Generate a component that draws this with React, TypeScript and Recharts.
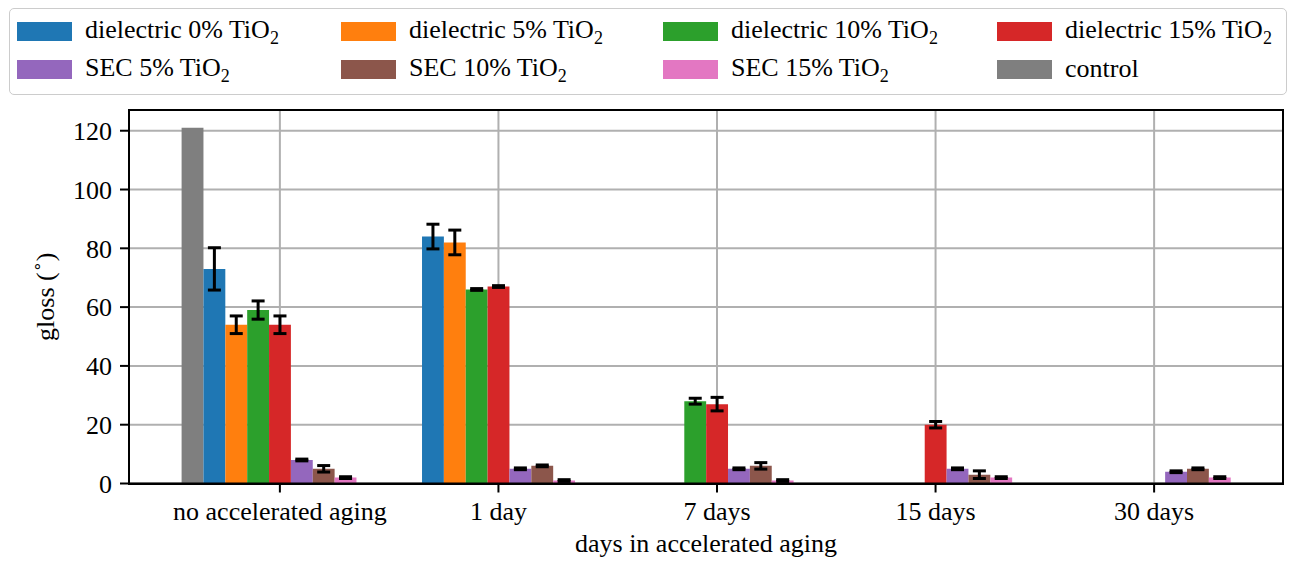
import { BarChart, Bar, XAxis, YAxis, CartesianGrid, ErrorBar } from 'recharts'

const CATEGORIES = ['no accelerated aging', '1 day', '7 days', '15 days', '30 days']
const Y_TICKS = [0, 20, 40, 60, 80, 100, 120]

// gloss values per category, with +/- error read from the caps
const control = [121, null, null, null, null]
const diel0 = [73, 84, 0, 0, 0]
const diel0Err = [7.2, 4.2, 0, 0, 0]
const diel5 = [54, 82, 0, 0, 0]
const diel5Err = [3, 4.2, 0, 0, 0]
const diel10 = [59, 66, 28, 0, 0]
const diel10Err = [3.1, 0.3, 1, 0, 0]
const diel15 = [54, 67, 27, 20, 0]
const diel15Err = [3, 0.3, 2.3, 1.1, 0]
const sec5 = [8, 5, 5, 5, 4]
const sec5Err = [0.3, 0.3, 0.3, 0.3, 0.3]
const sec10 = [5, 6, 6, 3, 5]
const sec10Err = [1.1, 0.3, 1.1, 1.3, 0.3]
const sec15 = [2, 1, 1, 2, 2]
const sec15Err = [0.3, 0.3, 0.3, 0.3, 0.3]

const SERIES = [
  { key: 'control', label: 'control', color: '#7f7f7f', values: control, err: null },
  { key: 'd0', label: 'dielectric 0% TiO2', color: '#1f77b4', values: diel0, err: diel0Err },
  { key: 'd5', label: 'dielectric 5% TiO2', color: '#ff7f0e', values: diel5, err: diel5Err },
  { key: 'd10', label: 'dielectric 10% TiO2', color: '#2ca02c', values: diel10, err: diel10Err },
  { key: 'd15', label: 'dielectric 15% TiO2', color: '#d62728', values: diel15, err: diel15Err },
  { key: 's5', label: 'SEC 5% TiO2', color: '#9467bd', values: sec5, err: sec5Err },
  { key: 's10', label: 'SEC 10% TiO2', color: '#8c564b', values: sec10, err: sec10Err },
  { key: 's15', label: 'SEC 15% TiO2', color: '#e377c2', values: sec15, err: sec15Err },
]

// legend reads row by row, 4 columns
const LEGEND_ORDER = ['d0', 'd5', 'd10', 'd15', 's5', 's10', 's15', 'control']

const data = CATEGORIES.map((cat, i) => {
  const row: Record<string, string | number | null> = { cat, pad: null }
  SERIES.forEach((s) => {
    row[s.key] = s.values[i]
    if (s.err) row[s.key + 'Err'] = s.err[i]
  })
  return row
})

const FONT = '"Liberation Serif", "Times New Roman", serif'
const W = 1293
const H = 566
const BAR = 21.86

function Label({ text }: { text: string }) {
  if (!text.endsWith('TiO2')) return <>{text}</>
  return (
    <>
      {text.slice(0, -1)}
      <span style={{ fontSize: 18, position: 'relative', top: 6 }}>2</span>
    </>
  )
}

function LegendBox() {
  const cols = [16, 340, 662, 996]
  return (
    <div style={{
      position: 'absolute', left: 9, top: 8, width: 1278, height: 87,
      border: '1.5px solid #cccccc', borderRadius: 5, background: '#fff',
      fontFamily: FONT, fontSize: 26, color: '#000', boxSizing: 'border-box',
    }}>
      {LEGEND_ORDER.map((k, i) => {
        const s = SERIES.find((x) => x.key === k)!
        const col = i % 4
        const row = Math.floor(i / 4)
        return (
          <div key={k} style={{
            position: 'absolute', left: cols[col] - 9, top: row * 38 + 3,
            display: 'flex', alignItems: 'center', height: 38, whiteSpace: 'nowrap',
            fontFamily: FONT,
          }}>
            <span style={{ width: 55, height: 19, background: s.color, display: 'inline-block', marginRight: 13 }} />
            <span style={{ lineHeight: '30px', fontFamily: FONT }}><Label text={s.label} /></span>
          </div>
        )
      })}
    </div>
  )
}

function XLabel(props: any) {
  const vb = props.viewBox
  return (
    <text x={vb.x + vb.width / 2} y={vb.y + 68} textAnchor="middle" fontSize={26} fill="#000" fontFamily={FONT}>
      days in accelerated aging
    </text>
  )
}

function YLabel(props: any) {
  const vb = props.viewBox
  const cy = vb.y + vb.height / 2
  return (
    <text x={45} y={cy} transform={`rotate(-90 45 ${cy})`} textAnchor="middle" dominantBaseline="central"
      fontSize={26} fill="#000" fontFamily={FONT}>
      gloss (<tspan fontSize={17} dy={-9}>∘</tspan><tspan dy={9}>)</tspan>
    </text>
  )
}

const axisLine = { stroke: '#000', strokeWidth: 2 }
const tickStyle = { fill: '#000', fontSize: 26, fontFamily: FONT }

export default function App() {
  return (
    <div style={{ position: 'absolute', left: 0, top: 0, width: W, height: H, background: '#fff' }}>
      <BarChart
        width={W} height={H} data={data}
        margin={{ top: 110, right: 10, bottom: 12.5, left: 69 }}
        barSize={BAR} barGap={0}
        style={{ fontFamily: FONT }}
      >
        <CartesianGrid stroke="#b0b0b0" strokeWidth={2} />
        {SERIES.map((s) => (
          <Bar key={s.key} dataKey={s.key} fill={s.color} isAnimationActive={false}>
            {s.err && (
              <ErrorBar dataKey={s.key + 'Err'} direction="y" width={6.5} strokeWidth={3} stroke="#000" isAnimationActive={false} />
            )}
          </Bar>
        ))}
        <Bar dataKey="pad" fill="none" isAnimationActive={false} />
        <XAxis
          dataKey="cat" interval={0} padding={{ left: 41.6, right: 19.6 }} height={70}
          tickSize={9} tickMargin={9} tick={tickStyle}
          axisLine={axisLine} tickLine={axisLine} label={<XLabel />}
        />
        <YAxis
          type="number" domain={[0, 127.05]} ticks={Y_TICKS} allowDataOverflow width={60}
          tickSize={9} tickMargin={8} tick={tickStyle}
          axisLine={axisLine} tickLine={axisLine} label={<YLabel />}
        />
      </BarChart>
      {/* black plot frame (top and right spines) */}
      <div style={{
        position: 'absolute', left: 128, top: 109, width: 1156, height: 375.5,
        border: '2px solid #000', boxSizing: 'border-box', pointerEvents: 'none',
      }} />
      <LegendBox />
    </div>
  )
}
